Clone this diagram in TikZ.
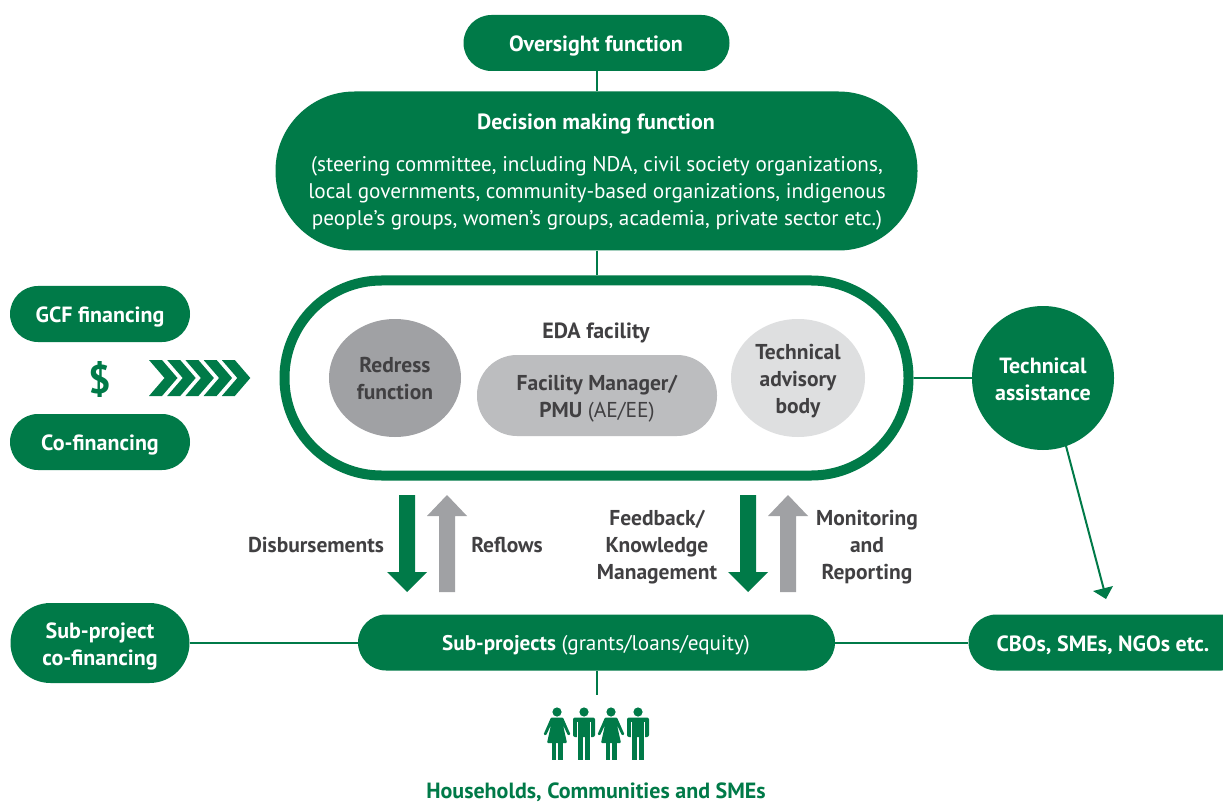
\documentclass[tikz,border=0pt]{standalone}
\usepackage{fontspec}
\setmainfont{PT Sans}
\definecolor{gg}{HTML}{007A48}
\definecolor{tx}{HTML}{414042}
\definecolor{g1}{HTML}{A0A1A4}
\definecolor{g2}{HTML}{BCBDBF}
\definecolor{g3}{HTML}{DEDFE0}
\usetikzlibrary{shapes.geometric}
\tikzset{x=1pt,y=-1pt,
 pill/.style={draw=none,fill=gg,rounded corners=#1,inner sep=0pt,text=white,align=center},
 lnk/.style={draw=gg,line width=2pt},
 lab/.style={text=tx,align=center,font=\bfseries\fontsize{21.5}{27}\selectfont,inner sep=0pt},
 wl/.style={font=\bfseries\fontsize{22}{27}\selectfont,align=center,inner sep=0pt},
 rg/.style={font=\fontsize{21.2}{27}\selectfont,align=center,inner sep=0pt},
 circ/.style={ellipse,inner sep=0pt,align=center,minimum width=#1}
}
\newcommand{\pillnode}[7]{\node[pill=#6,minimum width=#4,minimum height=#5,#7] (#1) at (#2,#3) {};}
\newcommand{\personm}[1]{\begin{scope}[shift={(#1,0)}]
\fill[gg] (0,712) circle (4.6);
\fill[gg,rounded corners=2] (-11,717.5) rectangle (11,737);
\fill[white] (-7,722) rectangle (-6,738);\fill[white] (6,722) rectangle (7,738);
\fill[gg] (-6,730) rectangle (-0.6,760);\fill[gg] (0.6,730) rectangle (6,760);
\end{scope}}
\newcommand{\personf}[1]{\begin{scope}[shift={(#1,0)}]
\fill[gg] (0,712) circle (4.6);
\fill[gg,rounded corners=1] (-6,717.5) -- (6,717.5) -- (13.5,734.5) -- (11,735.5) -- (6,725) -- (10,743) -- (-10,743) -- (-6,725) -- (-11,735.5) -- (-13.5,734.5) -- cycle;
\fill[gg] (-5.5,742) rectangle (-0.8,760);\fill[gg] (0.8,742) rectangle (5.5,760);
\end{scope}}
\begin{document}
\begin{tikzpicture}
\useasboundingbox (0,0) rectangle (1223,802);
\fill[white] (0,0) rectangle (1223,802);
% pills
\pillnode{over}{596.5}{43}{266}{56}{28}{}
\pillnode{dec}{596.5}{171}{642}{159}{79}{}
\node[draw=gg,line width=10pt,fill=white,rounded corners=97,minimum width=624,minimum height=195,inner sep=0] (eda) at (596.5,378) {};
\pillnode{gcf}{100}{314}{180}{56}{28}{}
\pillnode{cof}{100}{442}{180}{56}{28}{}
\pillnode{spc}{100}{643}{179}{80}{40}{}
\pillnode{sub}{596.5}{642.5}{477}{56}{28}{}
\pillnode{cbo}{1109}{642.5}{281}{56}{28}{}
\node[circ=142,minimum height=144,fill=gg] (ta) at (1043,378) {};
% connectors
\draw[lnk] (over.south) -- (dec.north);
\draw[lnk] (dec.south) -- (eda.north);
\draw[lnk] (eda.east) -- (ta.west);
\draw[lnk] (spc.east) -- (spc.east -| sub.west);
\draw[lnk] (sub.east) -- (cbo.west);
\coordinate (subd) at (596.5,695);
\draw[lnk] (sub.south) -- (subd);
\coordinate (tas) at (1066,446);
\coordinate (tae) at (1104,590);
\draw[lnk] (tas) -- (tae);
\fill[gg] (1093,591) -- (1113,586) -- (1106,599) -- cycle;
% inner
\node[circ=132,minimum height=118,fill=g1,text=tx] (red) at (395,378) {};
\node[rounded corners=40,fill=g2,minimum width=240,minimum height=81,inner sep=0] (fm) at (597,395.5) {};
\node[circ=134,minimum height=118,fill=g3] (tab) at (798,378) {};
% text
\node[text=white,wl] at (596,46) (t1) {Oversight function};
\node[text=white,wl] at (596,124) (t2) {Decision making function};
\node[text=white,rg] (t3) at (597,193) {(steering committee, including NDA, civil society organizations,\\local governments, community-based organizations, indigenous\\people's groups, women's groups, academia, private sector etc.)};
\node[text=white,wl] (t4) at (100,317) {GCF financing};
\node[text=white,wl] (t5) at (100,445) {Co-financing};
\node[text=tx,wl] (t6) at (596,333) {EDA facility};
\node[lab] (t7) at (395,379) {Redress\\function};
\node[lab] (t8) at (597,399) {Facility Manager/\\PMU {\mdseries (AE/EE)}};
\node[lab] (t9) at (798,381) {Technical\\advisory\\body};
\node[text=white,align=center,font=\bfseries\fontsize{22}{27}\selectfont,inner sep=0] (t10) at (1043,379) {Technical\\assistance};
\node[lab] (t11) at (316,545) {Disbursements};
\node[lab] (t12) at (507,545) {Reflows};
\node[lab] (t13) at (657,547) {Feedback/\\Knowledge\\Management};
\node[lab] (t14) at (867,547) {Monitoring\\and\\Reporting};
\node[text=white,wl] (t15) at (100,646) {Sub-project\\co-financing};
\node[text=white,rg] (t16) at (596,645) {\textbf{Sub-projects} (grants/loans/equity)};
\node[text=white,wl] (t17) at (1103,645) {CBOs, SMEs, NGOs etc.};
\node[text=gg,wl,anchor=base] (t18) at (596,798) {Households, Communities and SMEs};
\node[text=gg,font=\bfseries\fontsize{40}{40}\selectfont,inner sep=0] (t19) at (100,379) {\$};
% arrows
\foreach \x in {407,748}{\fill[gg] (\x-8,495) -- (\x+8,495) -- (\x+8,572) -- (\x+20,572) -- (\x,592) -- (\x-20,572) -- (\x-8,572) -- cycle;}
\foreach \x in {447,788}{\fill[g1] (\x-8,592) -- (\x+8,592) -- (\x+8,516) -- (\x+20,516) -- (\x,495) -- (\x-20,516) -- (\x-8,516) -- cycle;}
% chevrons
\foreach \x in {149,167.2,185.4,203.6,221.8}{\fill[gg] (\x,360) -- (\x+13,360) -- (\x+28.5,378) -- (\x+13,396) -- (\x,396) -- (\x+15.5,378) -- cycle;}
% people
\personf{557}\personm{584}\personf{611}\personm{638}
\end{tikzpicture}
\end{document}
